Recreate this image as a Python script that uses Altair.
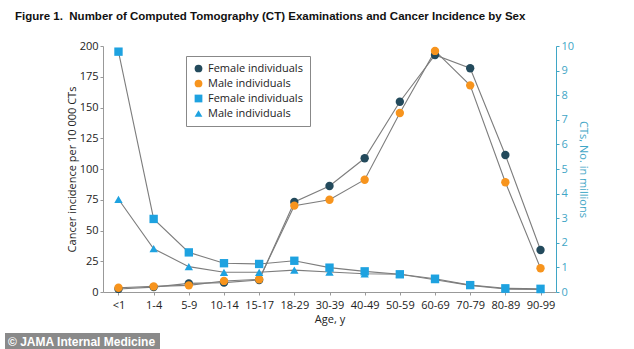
import altair as alt
import pandas as pd

ages = ["<1", "1-4", "5-9", "10-14", "15-17", "18-29", "30-39", "40-49",
        "50-59", "60-69", "70-79", "80-89", "90-99"]
female_incidence = [2.5, 4.0, 7.0, 7.6, 9.8, 73.2, 86.2, 108.7, 154.7, 192.7, 181.9, 111.4, 34.1]
male_incidence = [3.5, 4.6, 5.4, 9.0, 10.3, 70.2, 75.0, 91.3, 145.5, 196.0, 168.0, 89.2, 19.3]
female_cts = [9.77, 2.97, 1.61, 1.17, 1.14, 1.27, 0.99, 0.84, 0.72, 0.54, 0.28, 0.15, 0.13]
male_cts = [3.77, 1.76, 1.03, 0.80, 0.80, 0.89, 0.81, 0.74, 0.72, 0.50, 0.27, 0.12, 0.10]

keys = ["Female incidence", "Male incidence", "Female CTs", "Male CTs"]
labels = ["Female individuals", "Male individuals", "Female individuals", "Male individuals"]
colors = ["#234a5c", "#f7941d", "#1ea2e0", "#1ea2e0"]
shapes = ["circle", "circle", "square", "triangle-up"]

inc = pd.DataFrame(
    [{"age": a, "series": keys[0], "value": v} for a, v in zip(ages, female_incidence)]
    + [{"age": a, "series": keys[1], "value": v} for a, v in zip(ages, male_incidence)]
)
cts = pd.DataFrame(
    [{"age": a, "series": keys[2], "value": v} for a, v in zip(ages, female_cts)]
    + [{"age": a, "series": keys[3], "value": v} for a, v in zip(ages, male_cts)]
)

FONT = "Open Sans"
AX = "#3fa6c6"

x_enc = alt.X("age:N", sort=ages, scale=alt.Scale(type="point", padding=0.44),
              axis=alt.Axis(title="Age, y", labelAngle=0, domainColor="#999", tickColor="#999",
                            tickSize=3, labelColor="#222", labelFontSize=11, titleFontSize=11,
                            titleFontWeight="normal", titleColor="#222", labelPadding=4,
                            titlePadding=3, labelFont=FONT, titleFont=FONT))

lab_expr = ("datum.value == 'Female incidence' || datum.value == 'Female CTs' ? "
            "'Female individuals' : 'Male individuals'")
legend = alt.Legend(title=None, orient="none", legendX=83, legendY=10, strokeColor="#888",
                    padding=7, labelFontSize=11, labelFont=FONT, labelColor="#222",
                    symbolSize=60, rowPadding=3, labelExpr=lab_expr, fillColor="white")
color_enc = alt.Color("series:N", scale=alt.Scale(domain=keys, range=colors), legend=legend)
shape_enc = alt.Shape("series:N", scale=alt.Scale(domain=keys, range=shapes), legend=legend)

y_left_scale = alt.Scale(domain=[0, 200])
y_right_scale = alt.Scale(domain=[0, 10])

left_axis = alt.Axis(title="Cancer incidence per 10 000 CTs", orient="left", values=list(range(0, 201, 25)),
                     grid=False, domainColor="#999", tickColor="#999", tickSize=3, labelColor="#222",
                     labelFontSize=11, titleFontSize=11, titleFontWeight="normal", titleColor="#222",
                     labelPadding=2, titlePadding=2, labelFont=FONT, titleFont=FONT)
right_axis = alt.Axis(title="CTs, No. in millions", orient="right", values=list(range(0, 11)),
                      grid=False, domainColor=AX, tickColor=AX, tickSize=3, labelColor=AX,
                      labelFontSize=11, titleFontSize=11, titleFontWeight="normal", titleColor=AX,
                      labelPadding=2, titlePadding=4, labelFont=FONT, titleFont=FONT)

lines_left = alt.Chart(inc).mark_line(color="#7d7d7d", strokeWidth=1.1).encode(
    x=x_enc, y=alt.Y("value:Q", scale=y_left_scale, axis=left_axis), detail="series:N")
lines_right = alt.Chart(cts).mark_line(color="#7d7d7d", strokeWidth=1.1).encode(
    x=x_enc, y=alt.Y("value:Q", scale=y_right_scale, axis=right_axis), detail="series:N")
pts_left = alt.Chart(inc).mark_point(filled=True, opacity=1, size=70).encode(
    x=x_enc, y=alt.Y("value:Q", scale=y_left_scale, axis=None), color=color_enc, shape=shape_enc)
pts_right = alt.Chart(cts).mark_point(filled=True, opacity=1, size=70).encode(
    x=x_enc, y=alt.Y("value:Q", scale=y_right_scale, axis=None), color=color_enc, shape=shape_enc)

wm_box = alt.Chart(pd.DataFrame({"t": ["© JAMA Internal Medicine"]})).mark_rect(
    color="#8a8a8a", clip=False).encode(
    x=alt.value(-98), x2=alt.value(57), y=alt.value(287), y2=alt.value(303))
wm_text = alt.Chart(pd.DataFrame({"t": ["© JAMA Internal Medicine"]})).mark_text(
    color="white", fontWeight="bold", fontSize=12, font="Liberation Sans", align="left",
    baseline="middle", clip=False).encode(
    x=alt.value(-95), y=alt.value(295.5), text="t:N")

chart = alt.layer(lines_left, lines_right, pts_left, pts_right, wm_box, wm_text).resolve_scale(
    y="independent"
).properties(
    width=453, height=246,
    padding={"left": 103, "top": 46, "right": 78, "bottom": 57},
    autosize=alt.AutoSizeParams(type="none"),
    title=alt.TitleParams(
        "Figure 1.\u00a0\u00a0Number of Computed Tomography (CT) Examinations and Cancer Incidence by Sex",
        anchor="start", frame="group", dx=-88, dy=-14, fontSize=11.5, fontWeight="bold",
        font="Liberation Sans", color="#111"),
    background="white",
).configure_view(stroke=None)

chart.save("out.html", embed_options={"renderer": "svg", "actions": False})
